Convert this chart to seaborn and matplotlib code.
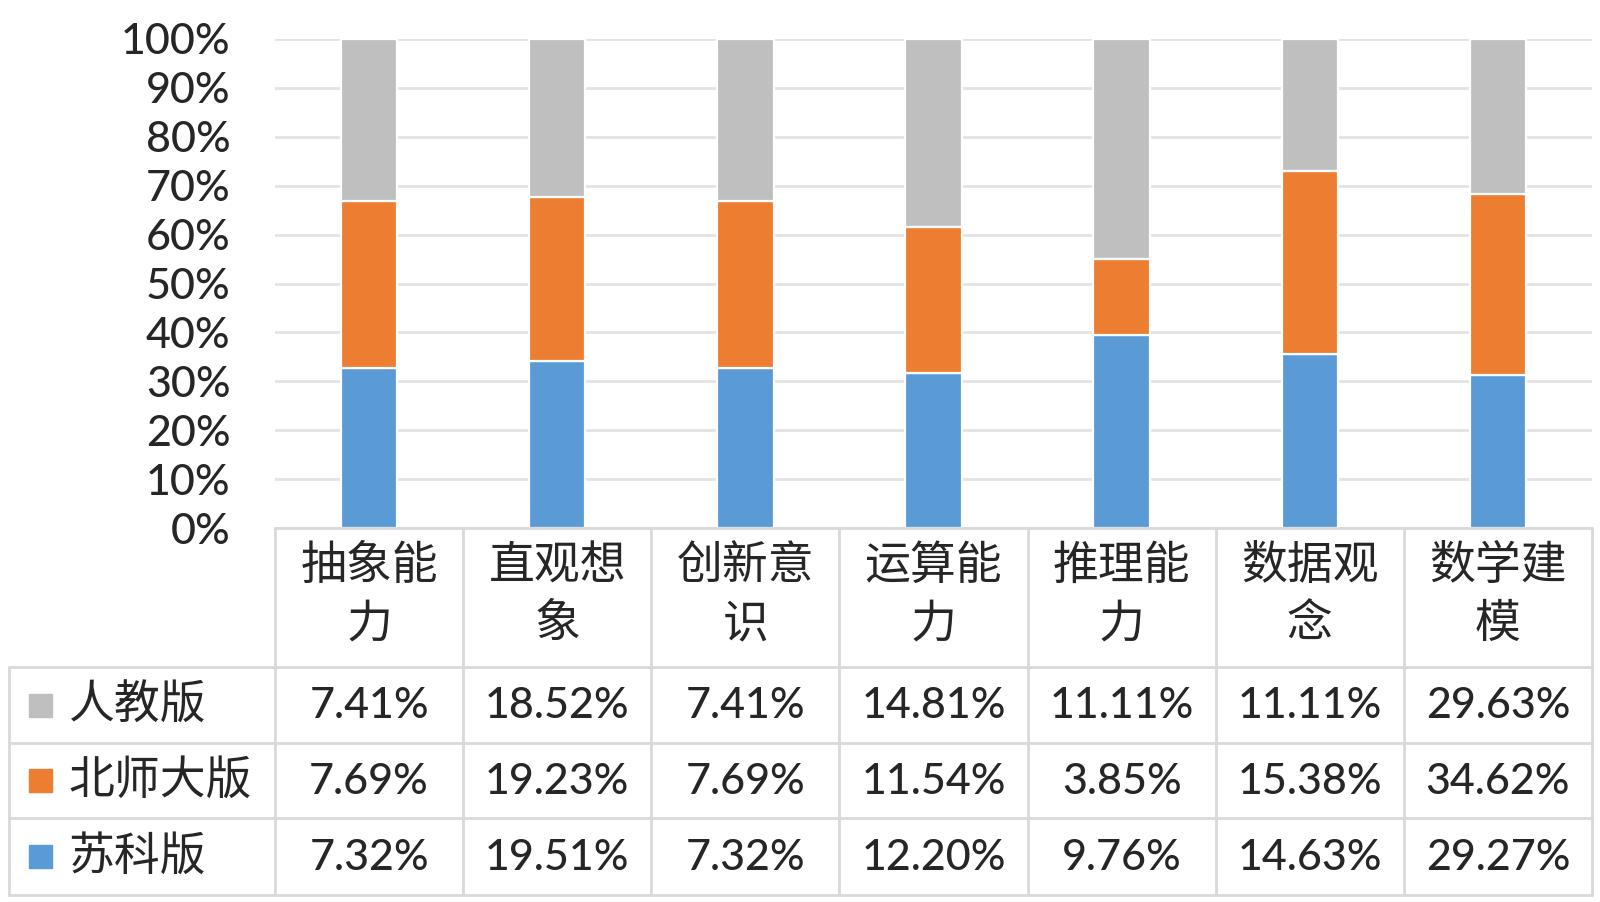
import matplotlib
matplotlib.use("Agg")
import matplotlib.pyplot as plt
import numpy as np
import pandas as pd
import seaborn as sns
from matplotlib.lines import Line2D
from matplotlib.patches import Rectangle

categories = ["抽象能力", "直观想象", "创新意识", "运算能力", "推理能力", "数据观念", "数学建模"]
series = ["人教版", "北师大版", "苏科版"]
renjiao = [7.41, 18.52, 7.41, 14.81, 11.11, 11.11, 29.63]
beishida = [7.69, 19.23, 7.69, 11.54, 3.85, 15.38, 34.62]
suke = [7.32, 19.51, 7.32, 12.20, 9.76, 14.63, 29.27]
colors = {"人教版": "#BFBFBF", "北师大版": "#ED7D31", "苏科版": "#5B9BD5"}

sns.set_style("white")
plt.rcParams['font.family'] = ['Lato', 'Noto Sans CJK SC', 'DejaVu Sans']

df = pd.DataFrame({"cat": categories, "人教版": renjiao, "北师大版": beishida, "苏科版": suke})
total = df[series].sum(axis=1)

W, H = 1600, 902
fig = plt.figure(figsize=(W / 100, H / 100), dpi=100)
# pixel layout (top-left origin)
px_left, px_right, px_top, px_zero = 275, 1592, 39, 528
ax = fig.add_axes([px_left / W, 1 - px_zero / H, (px_right - px_left) / W, (px_zero - px_top) / H])

bottom = np.zeros(len(categories))
for s in ["苏科版", "北师大版", "人教版"]:
    share = (df[s] / total).values
    sns.barplot(x=df["cat"], y=share, bottom=bottom, color=colors[s], saturation=1, width=0.3,
                edgecolor="white", linewidth=1.6, ax=ax, zorder=3)
    bottom = bottom + share

ax.set_xlim(-0.5, len(categories) - 0.5)
ax.set_ylim(0, 1)
ticks = np.arange(0, 1.01, 0.1)
ax.set_yticks(ticks)
ax.set_yticklabels([f"{int(round(t * 100))}%" for t in ticks], fontsize=31, fontweight="medium")
ax.tick_params(axis="y", length=0, pad=32)
ax.set_xticks([])
ax.set_xlabel("")
ax.set_ylabel("")
ax.grid(axis="y", color="#E3E3E3", linewidth=2, zorder=0)
for sp in ax.spines.values():
    sp.set_visible(False)

# data table
def fx(px):
    return px / W

def fy(py):
    return 1 - py / H

line_kw = dict(color="#D9D9D9", linewidth=2, transform=fig.transFigure)
col_w = (px_right - px_left) / len(categories)
col_edges = [px_left + i * col_w for i in range(len(categories) + 1)]
px_leg_left = 9
row_edges = [667, 743, 818, 895]

fig.add_artist(Line2D([fx(px_left), fx(px_right)], [fy(px_zero)] * 2, **line_kw))
for y in row_edges:
    fig.add_artist(Line2D([fx(px_leg_left), fx(px_right)], [fy(y)] * 2, **line_kw))
for x in col_edges:
    fig.add_artist(Line2D([fx(x)] * 2, [fy(px_zero), fy(row_edges[-1])], **line_kw))
fig.add_artist(Line2D([fx(px_leg_left)] * 2, [fy(row_edges[0]), fy(row_edges[-1])], **line_kw))

# header labels
for i, c in enumerate(categories):
    cx = (col_edges[i] + col_edges[i + 1]) / 2
    fig.text(fx(cx), fy(566), c[:3], ha="center", va="center", fontsize=33,
             family=['Noto Sans CJK SC'], fontweight="light")
    fig.text(fx(cx), fy(624), c[3:], ha="center", va="center", fontsize=33,
             family=['Noto Sans CJK SC'], fontweight="light")

# rows
for r, s in enumerate(series):
    cy = (row_edges[r] + row_edges[r + 1]) / 2
    fig.add_artist(Rectangle((fx(29), fy(cy + 11.5)), 23 / W, 23 / H, color=colors[s],
                             transform=fig.transFigure))
    fig.text(fx(68), fy(cy), s, ha="left", va="center", fontsize=33,
             family=['Noto Sans CJK SC'], fontweight="light")
    for i, v in enumerate(df[s]):
        cx = (col_edges[i] + col_edges[i + 1]) / 2
        fig.text(fx(cx), fy(cy + 1), f"{v:.2f}%", ha="center", va="center", fontsize=31,
                 fontweight="medium")

fig.savefig("out.png", dpi=100)
